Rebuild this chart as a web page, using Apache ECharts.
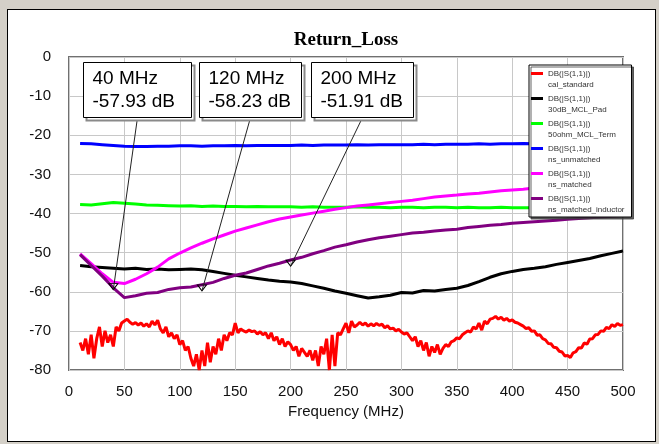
<!DOCTYPE html>
<html>
<head>
<meta charset="utf-8">
<script src="https://cdn.jsdelivr.net/npm/echarts@6/dist/echarts.min.js"></script>
<style>
  html, body { margin: 0; padding: 0; background: #d4d0c8; }
  #frame { position: absolute; left: 7px; top: 9px; width: 647px; height: 431px; background: #fff; border: 1px solid #000; }
  #chart { position: absolute; left: 0; top: 0; width: 659px; height: 444px; }
</style>
</head>
<body>
<div id="frame"></div>
<div id="chart"></div>
<script>
// sweep used by the smoother traces (MHz)
var freq = [10,20,30,40,50,60,70,80,90,100,110,120,130,140,150,160,170,180,190,200,
  210,220,230,240,250,260,270,280,290,300,310,320,330,340,350,360,370,380,390,400,
  410,420,430,440,450,460,470,480,490,500];

// finer sweep for the noisy cal_standard trace
var freqRed = [10,12.5,15,17.5,20,22.5,25,27.5,30,32.5,35,37.5,40,42.5,45,47.5,50,52.5,55,57.5,
  60,62.5,65,67.5,70,72.5,75,77.5,80,82.5,85,87.5,90,92.5,95,97.5,100,102.5,105,107.5,
  110,112.5,115,117.5,120,122.5,125,127.5,130,132.5,135,137.5,140,142.5,145,147.5,150,152.5,155,157.5,
  160,162.5,165,167.5,170,172.5,175,177.5,180,182.5,185,187.5,190,192.5,195,197.5,200,202.5,205,207.5,
  210,212.5,215,217.5,220,222.5,225,227.5,230,232.5,235,237.5,240,242.5,245,247.5,250,252.5,255,257.5,
  260,262.5,265,267.5,270,272.5,275,277.5,280,282.5,285,287.5,290,292.5,295,297.5,300,302.5,305,307.5,
  310,312.5,315,317.5,320,322.5,325,327.5,330,332.5,335,337.5,340,342.5,345,347.5,350,352.5,355,357.5,
  360,362.5,365,367.5,370,372.5,375,377.5,380,382.5,385,387.5,390,392.5,395,397.5,400,402.5,405,407.5,
  410,412.5,415,417.5,420,422.5,425,427.5,430,432.5,435,437.5,440,442.5,445,447.5,450,452.5,455,457.5,
  460,462.5,465,467.5,470,472.5,475,477.5,480,482.5,485,487.5,490,492.5,495,497.5,500];

var calStandard = [-73,-75,-72,-76,-71,-77,-72,-69,-74,-70,-73,-71,-74,-69,-70,-68,-67.5,-67,-67.8,-68.3,
  -67.9,-68.5,-68,-68.8,-68.2,-69,-67.5,-68.5,-67.3,-69.5,-70.5,-69,-71.5,-70.5,-72,-71,-73.5,-72.5,-75,-74,
  -77,-79,-76,-80,-75,-79,-73,-78,-74,-76,-72,-75,-71,-72.5,-70.5,-71,-68,-70.5,-69.5,-70,
  -70.3,-69.8,-70.2,-70,-70.8,-70.2,-71,-70.5,-72,-70.5,-72.5,-71.5,-73.5,-72,-74,-72.8,-73.5,-75,-74,-76.5,
  -74.5,-75.5,-76.5,-75,-77.5,-75,-79,-74,-76,-72,-80,-71,-79,-70.5,-71,-69.5,-68,-70.5,-67.5,-69,
  -68.5,-67.8,-68.5,-68,-68.8,-68.2,-68.7,-68.1,-68.6,-68.3,-69.2,-68.7,-69.5,-69.3,-70,-69.6,-70.3,-70.8,-70.5,-71.5,
  -72.5,-71.5,-74,-72.5,-75,-73,-76.5,-74,-75.5,-73.5,-76,-74.5,-73.5,-74,-72.8,-72.5,-71.8,-72,-71,-70.5,
  -70,-70.3,-69,-69.5,-68,-69.8,-67.5,-68.2,-67,-66.8,-66.3,-67,-66.5,-67.3,-66.8,-67.5,-67.2,-67.8,-68,-68.4,
  -68.8,-69.4,-69.2,-70.1,-70,-71.1,-71,-72,-72.3,-73.2,-73.3,-74.2,-74.3,-75.2,-75.4,-76.4,-76.3,-76.8,-75.6,-75.3,
  -74.3,-74.4,-73.1,-73.4,-72.1,-72,-71,-70.9,-70,-70.1,-69.1,-69.4,-68.4,-68.9,-68.1,-68.6,-68.4];

var mclPad = [-53.3,-53.6,-53.8,-54.0,-54.2,-54.0,-54.3,-54.2,-54.4,-54.3,
  -54.2,-54.4,-54.8,-55.3,-55.8,-56.2,-56.6,-57.0,-57.3,-57.5,
  -57.9,-58.5,-59.1,-59.8,-60.4,-61.0,-61.6,-61.3,-60.9,-60.2,
  -60.3,-59.7,-59.8,-59.4,-59.1,-58.4,-57.4,-56.3,-55.4,-54.8,
  -54.3,-54.0,-53.6,-53.0,-52.5,-52.0,-51.5,-50.8,-50.2,-49.6];

var mclTerm = [-37.7,-37.8,-37.5,-37.2,-37.4,-37.6,-37.8,-37.9,-38.0,-38.1,
  -38.0,-38.2,-38.1,-38.2,-38.2,-38.3,-38.2,-38.3,-38.3,-38.3,
  -38.4,-38.3,-38.4,-38.4,-38.4,-38.3,-38.4,-38.4,-38.5,-38.4,
  -38.4,-38.5,-38.4,-38.4,-38.5,-38.4,-38.5,-38.5,-38.4,-38.5,
  -38.5,-38.5,-38.6,-38.5,-38.5,-38.6,-38.5,-38.6,-38.6,-38.6];

var nsUnmatched = [-22.1,-22.2,-22.4,-22.6,-22.8,-22.9,-22.9,-22.8,-22.8,-22.7,
  -22.7,-22.8,-22.7,-22.7,-22.6,-22.7,-22.6,-22.6,-22.6,-22.6,
  -22.5,-22.6,-22.5,-22.5,-22.5,-22.4,-22.5,-22.4,-22.4,-22.4,
  -22.4,-22.3,-22.4,-22.3,-22.3,-22.3,-22.2,-22.3,-22.2,-22.2,
  -22.1,-22.2,-22.1,-22.1,-22.1,-22.0,-22.1,-22.0,-22.0,-22.0];

var nsMatched = [-50.3,-52.8,-55.4,-57.6,-57.9,-56.8,-55.4,-53.7,-51.6,-50.1,
  -48.8,-47.6,-46.5,-45.5,-44.5,-43.7,-42.9,-42.1,-41.4,-40.9,
  -40.4,-39.9,-39.4,-38.9,-38.5,-38.1,-37.8,-37.5,-37.2,-36.9,
  -36.6,-36.2,-35.8,-35.5,-35.3,-35.0,-34.8,-34.5,-34.2,-34.0,
  -33.8,-33.5,-33.2,-33.0,-32.7,-32.4,-32.1,-31.8,-31.5,-31.2];

var nsInductor = [-50.5,-53.3,-56.0,-59.0,-61.5,-61.0,-60.4,-60.2,-59.4,-59.0,
  -58.8,-58.2,-57.6,-56.6,-55.8,-55.2,-54.3,-53.4,-52.7,-51.9,
  -51.2,-50.3,-49.5,-48.6,-48.0,-47.3,-46.7,-46.2,-45.8,-45.4,
  -45.0,-44.8,-44.5,-44.2,-44.0,-43.6,-43.3,-43.0,-42.8,-42.5,
  -42.3,-42.1,-41.9,-41.7,-41.5,-41.3,-41.1,-40.9,-40.7,-40.5];

var traceNames = ['cal_standard', '30dB_MCL_Pad', '50ohm_MCL_Term', 'ns_unmatched', 'ns_matched', 'ns_matched_inductor'];
var traceColors = ['#ff0000', '#000000', '#00ff00', '#0000ff', '#ff00ff', '#800080'];

// markers
var markerFreq = [40, 120, 200];
var markerDb = [-57.93, -58.23, -51.91];
var markerTrace = ['ns_matched', 'ns_matched_inductor', 'ns_matched_inductor'];

function pairs(xs, ys) {
  var out = [];
  for (var i = 0; i < xs.length; i++) out.push([xs[i], ys[i]]);
  return out;
}

var traceData = [
  pairs(freqRed, calStandard),
  pairs(freq, mclPad),
  pairs(freq, mclTerm),
  pairs(freq, nsUnmatched),
  pairs(freq, nsMatched),
  pairs(freq, nsInductor)
];

var font = 'Liberation Sans, Arial, sans-serif';

var series = traceNames.map(function (name, i) {
  var marks = [];
  markerTrace.forEach(function (t, k) {
    if (t === name) marks.push({ coord: [markerFreq[k], markerDb[k]] });
  });
  var s = {
    name: name,
    type: 'line',
    data: traceData[i],
    showSymbol: false,
    symbol: 'none',
    color: traceColors[i],
    lineStyle: { width: 3, color: traceColors[i] },
    emphasis: { disabled: true }
  };
  if (marks.length) {
    s.markPoint = {
      symbol: 'triangle',
      symbolRotate: 180,
      symbolSize: [9, 6],
      symbolOffset: [0, 3],
      silent: true,
      label: { show: false },
      itemStyle: { color: 'rgba(0,0,0,0)', borderColor: '#000', borderWidth: 1 },
      data: marks
    };
  }
  return s;
});

var myChart = echarts.init(document.getElementById('chart'));

var option = {
  animation: false,
  backgroundColor: 'transparent',
  title: {
    text: 'Return_Loss',
    left: 341,
    top: 26,
    textAlign: 'center',
    textStyle: { fontFamily: 'Liberation Serif, Times New Roman, serif', fontWeight: 'bold', fontSize: 19, color: '#000' }
  },
  grid: {
    left: 69, top: 57, width: 554, height: 313,
    show: true, backgroundColor: '#fff', borderColor: '#707070', borderWidth: 2
  },
  legend: {
    orient: 'vertical',
    left: 529,
    top: 65,
    backgroundColor: '#fff',
    borderColor: '#000',
    borderWidth: 1,
    shadowColor: 'rgba(60,60,60,0.8)',
    shadowOffsetX: 2,
    shadowOffsetY: 2,
    shadowBlur: 0,
    padding: [3, 7, 2, 2],
    itemGap: 3,
    itemWidth: 12,
    itemHeight: 22,
    icon: 'path://M0,4h12v3h-12z M0,0h0.01v0.01h-0.01z M0,22h0.01v0.01h-0.01z',
    itemStyle: { borderWidth: 0 },
    selectedMode: false,
    data: traceNames,
    formatter: function (n) { return 'DB(|S(1,1)|)\n' + n; },
    textStyle: { fontFamily: font, fontSize: 8, lineHeight: 11, color: '#333' }
  },
  xAxis: {
    type: 'value',
    min: 0, max: 500, interval: 50,
    name: 'Frequency (MHz)',
    nameLocation: 'middle',
    nameGap: 33,
    nameTextStyle: { fontFamily: font, fontSize: 15, color: '#111' },
    axisLine: { show: false },
    axisTick: { show: false },
    axisLabel: { fontFamily: font, fontSize: 15, color: '#111', margin: 14 },
    splitLine: { lineStyle: { color: '#c8c8c8', width: 1 } }
  },
  yAxis: {
    type: 'value',
    min: -80, max: 0, interval: 10,
    axisLine: { show: false },
    axisTick: { show: false },
    axisLabel: { fontFamily: font, fontSize: 15, color: '#111', margin: 18 },
    splitLine: { lineStyle: { color: '#c8c8c8', width: 1 } }
  },
  series: series
};

myChart.setOption(option);

// marker readout boxes with leader lines to the marked points
var boxLeft = [83, 199, 311];
var boxWidth = [108, 102, 102];
var boxTop = 62;
var boxHeight = 55;
var graphics = [];
markerFreq.forEach(function (f, k) {
  var p = myChart.convertToPixel({ gridIndex: 0 }, [f, markerDb[k]]);
  var l = boxLeft[k] + 0.5, t = boxTop + 0.5, w = boxWidth[k];
  graphics.push({
    type: 'line', z: 100,
    shape: { x1: l + w / 2, y1: t + boxHeight, x2: p[0], y2: p[1] + 6 },
    style: { stroke: '#222', lineWidth: 1 }
  });
  graphics.push({
    type: 'rect', z: 101,
    shape: { x: l + 3, y: t + 3, width: w, height: boxHeight },
    style: { fill: '#fff', stroke: '#8a8a8a', lineWidth: 2 }
  });
  graphics.push({
    type: 'rect', z: 102,
    shape: { x: l, y: t, width: w, height: boxHeight },
    style: { fill: '#fff', stroke: '#000', lineWidth: 1 }
  });
  graphics.push({
    type: 'text', z: 103, x: l + 9, y: t + 16,
    style: { text: f + ' MHz', font: '19px ' + font, fill: '#000', verticalAlign: 'middle' }
  });
  graphics.push({
    type: 'text', z: 103, x: l + 9, y: t + 39,
    style: { text: markerDb[k].toFixed(2) + ' dB', font: '19px ' + font, fill: '#000', verticalAlign: 'middle' }
  });
});
myChart.setOption({ graphic: graphics });
</script>
</body>
</html>
